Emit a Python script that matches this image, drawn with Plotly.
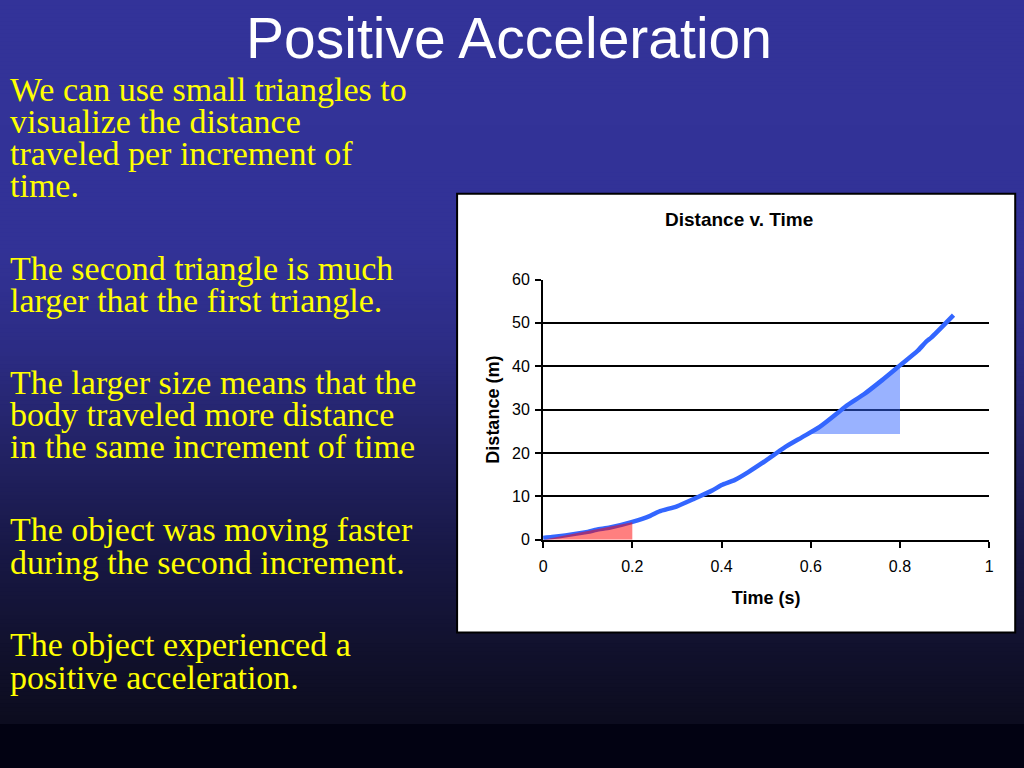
import plotly.graph_objects as go

# ---------------- data ----------------
time_s = [0, 0.02, 0.05, 0.10, 0.12, 0.15, 0.20, 0.24, 0.26, 0.30, 0.34, 0.38, 0.40,
          0.43, 0.46, 0.50, 0.54, 0.58, 0.62, 0.66, 0.68, 0.72, 0.76, 0.80, 0.84,
          0.86, 0.87, 0.92]
distance_m = [0.4, 0.6, 1.0, 1.8, 2.3, 2.8, 4.1, 5.5, 6.5, 7.7, 9.5, 11.4, 12.6,
              13.8, 15.6, 18.3, 21.2, 23.6, 26.0, 29.2, 30.9, 33.6, 36.8, 40.2, 43.6,
              45.8, 46.6, 51.8]

tri1_t = [0, 0.2, 0.2, 0]
tri1_d = [0, 0, 4.0, 0]
tri2_t = [0.6, 0.8, 0.8, 0.6]
tri2_d = [24.4, 24.4, 40.2, 24.4]

x_ticks = [0, 0.2, 0.4, 0.6, 0.8, 1]
x_tick_labels = ["0", "0.2", "0.4", "0.6", "0.8", "1"]
y_ticks = [0, 10, 20, 30, 40, 50, 60]

slide_title = "Positive Acceleration"
chart_title = "Distance v. Time"
x_title = "Time (s)"
y_title = "Distance (m)"
bullet_lines = [
    ("We can use small triangles to", 90),
    ("visualize the distance", 122),
    ("traveled per increment of", 155),
    ("time.", 187),
    ("The second triangle is much", 270),
    ("larger that the first triangle.", 302),
    ("The larger size means that the", 384),
    ("body traveled more distance", 416),
    ("in the same increment of time", 449),
    ("The object was moving faster", 532),
    ("during the second increment.", 565),
    ("The object experienced a", 647),
    ("positive acceleration.", 680),
]

W, H = 1024, 768
# map target screen pixels to paper fractions (compensating the capture fit)
def px(x):
    return ((x - 4.0) / 0.991) / W
def py(y):
    return 1 - ((y - 6.6) / 0.981) / H

fig = go.Figure()

fig.add_trace(go.Scatter(x=tri2_t, y=tri2_d, mode="lines", fill="toself",
                         fillcolor="rgba(51,102,255,0.5)", line=dict(width=0),
                         hoverinfo="skip", showlegend=False))
fig.add_trace(go.Scatter(x=time_s, y=distance_m, mode="lines",
                         line=dict(color="#3366ff", width=4.5, shape="spline", smoothing=0.6),
                         showlegend=False))
fig.add_trace(go.Scatter(x=tri1_t, y=tri1_d, mode="lines", fill="toself",
                         fillcolor="rgba(255,0,0,0.5)", line=dict(width=0),
                         hoverinfo="skip", showlegend=False))

# background gradient
stops = [(0, (51, 51, 153)), (250, (50, 50, 150)), (350, (44, 44, 132)),
         (450, (34, 34, 100)), (550, (24, 24, 70)), (650, (17, 17, 45)),
         (725, (12, 12, 30))]
shapes = []
step = 4
y = 0
while y < 725:
    yc = y + step / 2
    for i in range(len(stops) - 1):
        if stops[i][0] <= yc <= stops[i + 1][0]:
            a, ca = stops[i]
            b, cb = stops[i + 1]
            f = (yc - a) / (b - a)
            c = tuple(int(round(ca[k] + (cb[k] - ca[k]) * f)) for k in range(3))
            break
    shapes.append(dict(type="rect", xref="paper", yref="paper", x0=-0.02, x1=1.02,
                       y0=py(min(y + step + 2, 725)), y1=py(y - (12 if y == 0 else 0)),
                       fillcolor="rgb(%d,%d,%d)" % c,
                       line=dict(width=0), layer="below"))
    y += step
shapes.append(dict(type="rect", xref="paper", yref="paper", x0=-0.02, x1=1.02,
                   y0=-0.03, y1=py(725), fillcolor="rgb(2,2,18)", line=dict(width=0), layer="below"))
# chart box
shapes.append(dict(type="rect", xref="paper", yref="paper", x0=px(457), x1=px(1015),
                   y0=py(633), y1=py(193), fillcolor="white",
                   line=dict(color="black", width=2), layer="below"))

annotations = [
    dict(text=slide_title, x=px(509), y=py(37), xref="paper", yref="paper",
         xanchor="center", yanchor="middle", showarrow=False,
         font=dict(family="Liberation Sans, Arial", size=57, color="white")),
    dict(text="<b>%s</b>" % chart_title, x=px(739), y=py(218.5), xref="paper", yref="paper",
         xanchor="center", yanchor="middle", showarrow=False,
         font=dict(family="Liberation Sans, Arial", size=19, color="black")),
]
for txt, yy in bullet_lines:
    annotations.append(dict(text=txt, x=px(8), y=py(yy - 2), xref="paper", yref="paper",
                            xanchor="left", yanchor="middle", showarrow=False,
                            font=dict(family="Liberation Serif, Times New Roman, serif",
                                      size=34, color="#ffff00")))

fig.update_layout(
    width=W, height=H, autosize=False,
    margin=dict(l=0, r=0, t=0, b=0),
    paper_bgcolor="rgb(2,2,18)",
    plot_bgcolor="rgba(0,0,0,0)",
    shapes=shapes,
    annotations=annotations,
    xaxis=dict(domain=[px(543), px(989)], range=[0, 1], tickvals=x_ticks,
               ticktext=x_tick_labels, showgrid=False, zeroline=False,
               showline=True, linecolor="black", linewidth=2,
               ticks="outside", ticklen=6, tickwidth=1.5, tickcolor="black",
               ticklabelstandoff=5,
               tickfont=dict(family="Liberation Sans, Arial", size=16, color="black"),
               title=dict(text="<b>%s</b>" % x_title, standoff=18,
                          font=dict(family="Liberation Sans, Arial", size=18, color="black"))),
    yaxis=dict(domain=[py(540), py(279)], range=[0, 60], tickvals=y_ticks,
               showgrid=True, gridcolor="black", gridwidth=1.6, zeroline=False,
               showline=True, linecolor="black", linewidth=2,
               ticks="outside", ticklen=6, tickwidth=1.5, tickcolor="black",
               ticklabelstandoff=2,
               tickfont=dict(family="Liberation Sans, Arial", size=16, color="black"),
               title=dict(text="<b>%s</b>" % y_title, standoff=8,
                          font=dict(family="Liberation Sans, Arial", size=18, color="black"))),
)

fig.write_html("out.html",
               config={"responsive": False, "displayModeBar": False},
               post_script="document.body.style.margin='0';document.body.style.padding='0';"
                           "document.body.style.background='rgb(2,2,18)';"
                           "document.documentElement.style.overflow='hidden';")
